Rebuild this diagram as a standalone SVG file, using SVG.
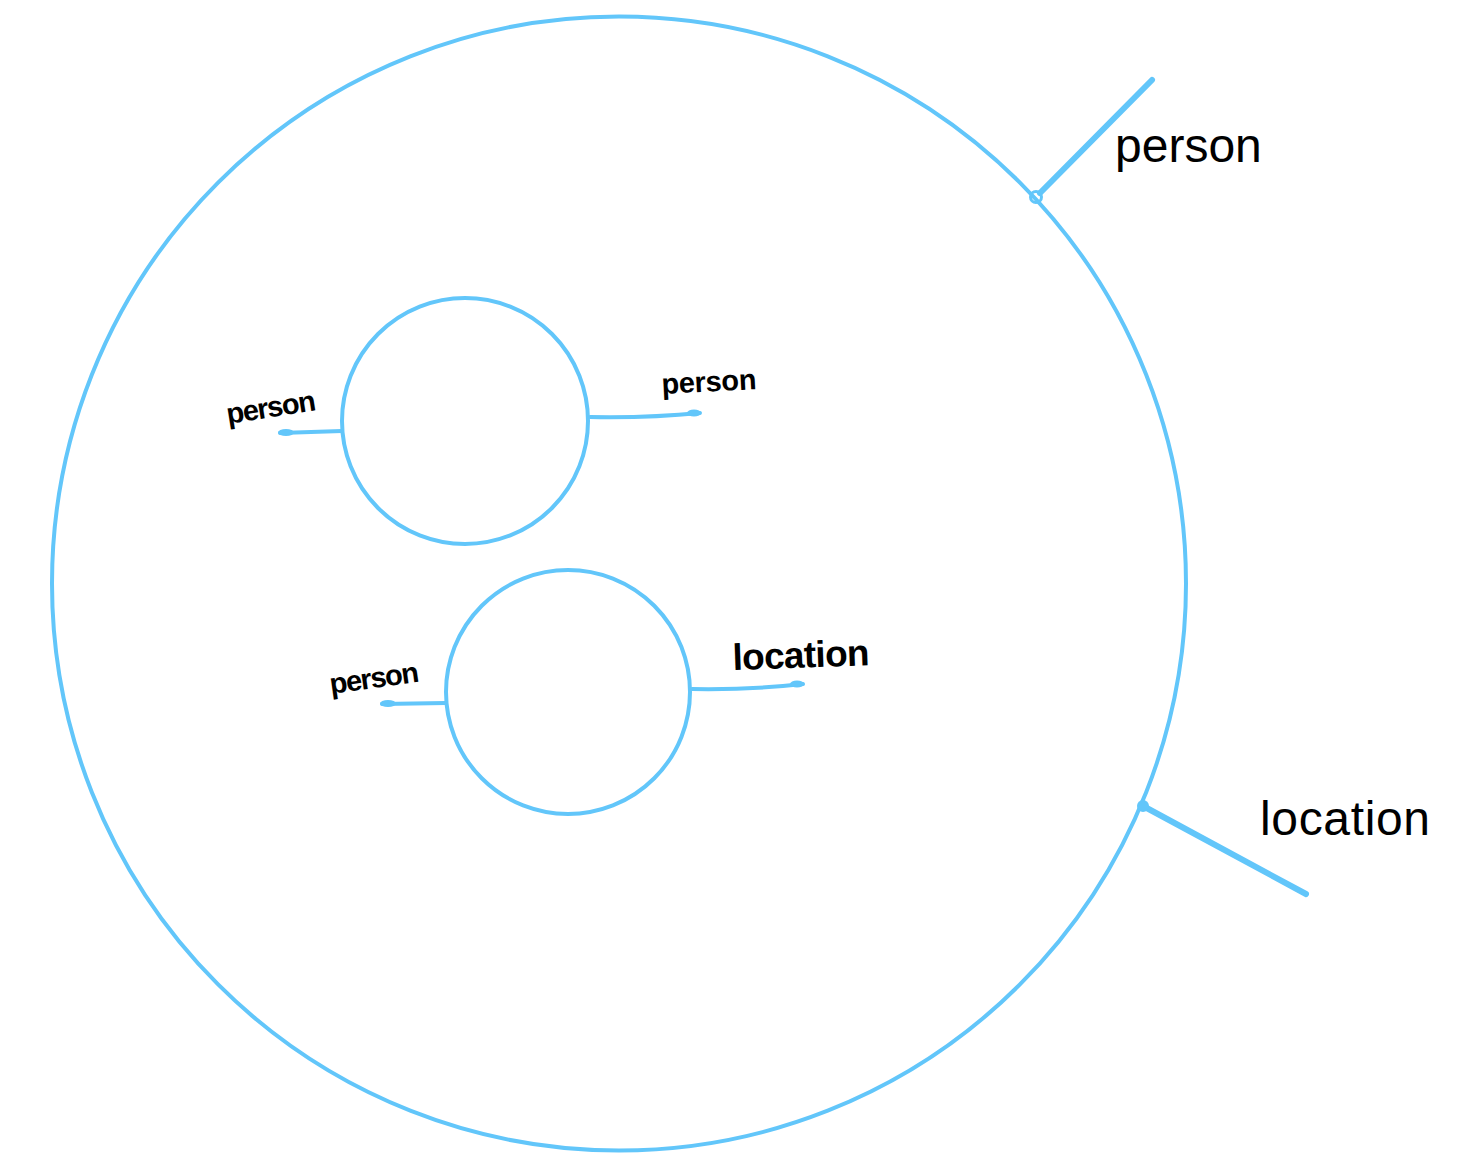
<svg xmlns="http://www.w3.org/2000/svg" width="1476" height="1174" viewBox="0 0 1476 1174">
<style>
.c{fill:none;stroke:#62c6fa;stroke-width:4}
.l{fill:none;stroke:#62c6fa;stroke-width:4;stroke-linecap:round}
.b{fill:#62c6fa}
.t{font-family:"Liberation Sans",sans-serif;fill:#000}
.s{font-weight:bold}
</style>
<rect width="1476" height="1174" fill="#fff"/>
<g id="outer"><circle class="c" cx="619" cy="583.5" r="567"/></g>
<g id="inner1"><circle class="c" cx="465" cy="421" r="123"/></g>
<g id="inner2"><circle class="c" cx="568" cy="692" r="122"/></g>
<g id="connectors">
<line x1="1040" y1="193" x2="1152" y2="80" style="fill:none;stroke:#62c6fa;stroke-width:6;stroke-linecap:round"/>
<circle cx="1036" cy="197" r="5.5" style="fill:none;stroke:#62c6fa;stroke-width:3"/>
<line x1="1143" y1="806" x2="1306" y2="894" style="fill:none;stroke:#62c6fa;stroke-width:6;stroke-linecap:round"/>
<circle cx="1143" cy="806" r="6" fill="#62c6fa"/>
<path class="l" d="M342 431 L280 433"/>
<ellipse class="b" cx="286" cy="432.5" rx="8" ry="3.5"/>
<path class="l" d="M590 417 Q650 418 700 413"/>
<ellipse class="b" cx="694" cy="413" rx="7" ry="3.5"/>
<path class="l" d="M446 703 L382 704"/>
<ellipse class="b" cx="388" cy="703.5" rx="8" ry="3.5"/>
<path class="l" d="M692 689 Q750 690 803 684"/>
<ellipse class="b" cx="797" cy="684" rx="7" ry="3.5"/>
</g>
<g id="labels">
<text class="t" x="1115" y="162" font-size="48">person</text>
<text class="t" x="1260" y="835" font-size="48" textLength="170">location</text>
<text class="t s" x="228" y="424" font-size="29" textLength="90" transform="rotate(-9 228 424)">person</text>
<text class="t s" x="662" y="394" font-size="29" textLength="95" transform="rotate(-3 662 394)">person</text>
<text class="t s" x="331" y="694" font-size="29" textLength="90" transform="rotate(-8 331 694)">person</text>
<text class="t s" x="733" y="670" font-size="37" textLength="137" transform="rotate(-2 733 670)">location</text>
</g>
</svg>
